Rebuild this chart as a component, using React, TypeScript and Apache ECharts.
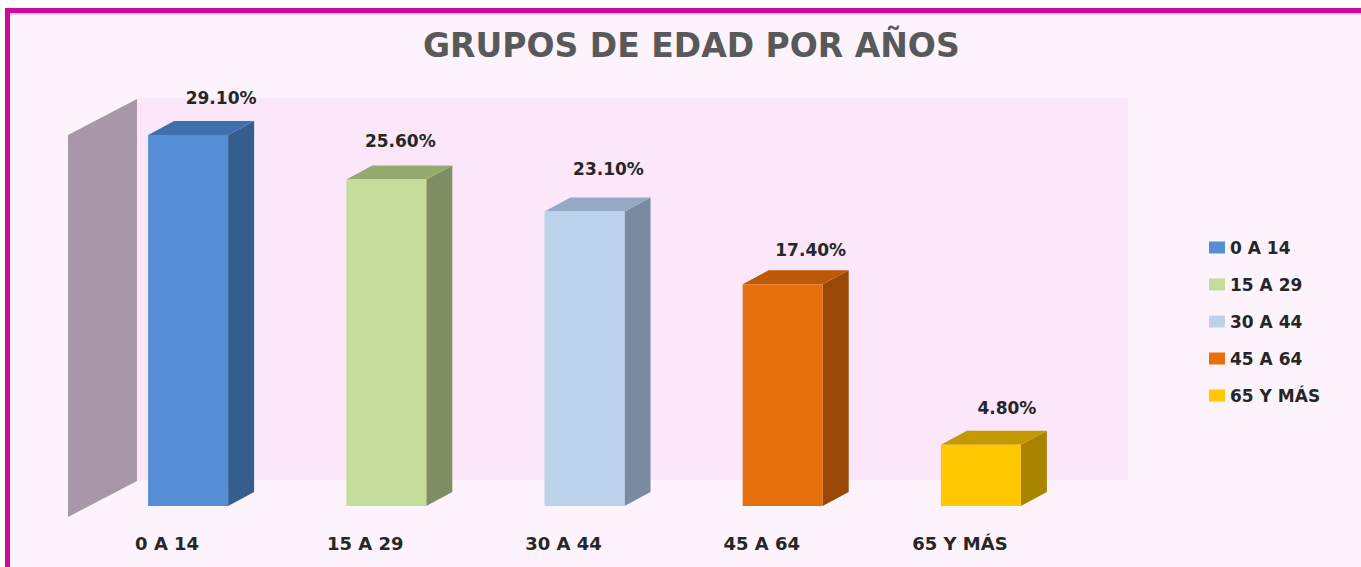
import React, { useEffect, useRef } from "react";
import * as echarts from "echarts";

const TITLE = "GRUPOS DE EDAD POR AÑOS";
const CATEGORIES = ["0 A 14", "15 A 29", "30 A 44", "45 A 64", "65 Y MÁS"];
const VALUES = [29.1, 25.6, 23.1, 17.4, 4.8];

const FRONT = ["#558ed5", "#c6dc9a", "#bcd2ea", "#e8700c", "#ffc700"];
const SIDE = ["#355d8e", "#7e8e60", "#798aa1", "#9a4806", "#a88400"];
const TOPC = ["#3f6fae", "#95aa6e", "#95a9c4", "#bd5a08", "#c49800"];
const LABEL_NUDGE = [
  [33, -37],
  [14, -39],
  [24, -42],
  [28, -34],
  [26, -37],
];

const BAR_W = 80;
const DX = 26;
const DY = -14;
const FONT = "DejaVu Sans";

export default function App() {
  const ref = useRef<HTMLDivElement>(null);
  useEffect(() => {
    if (!ref.current) return;
    const chart = echarts.init(ref.current, undefined, { renderer: "svg" });
    const series = CATEGORIES.map((name, i) => ({
      type: "custom",
      name,
      itemStyle: { color: FRONT[i] },
      encode: { x: 0, y: 1 },
      data: [[i, VALUES[i]]],
      renderItem: (params: any, api: any) => {
        const idx = api.value(0);
        const v = api.value(1);
        const top = api.coord([idx, v]);
        const base = api.coord([idx, 0]);
        const half = BAR_W / 2;
        const l = top[0] - half;
        const r = top[0] + half;
        const ty = top[1];
        const by = base[1];
        return {
          type: "group",
          children: [
            {
              type: "polygon",
              shape: { points: [[r, ty], [r + DX, ty + DY], [r + DX, by + DY], [r, by]] },
              style: { fill: SIDE[i] },
            },
            {
              type: "polygon",
              shape: { points: [[l, ty], [l + DX, ty + DY], [r + DX, ty + DY], [r, ty]] },
              style: { fill: TOPC[i] },
            },
            {
              type: "rect",
              shape: { x: l, y: ty, width: BAR_W, height: by - ty },
              style: { fill: FRONT[i] },
            },
            {
              type: "text",
              style: {
                text: v.toFixed(2) + "%",
                x: top[0] + LABEL_NUDGE[i][0],
                y: ty + LABEL_NUDGE[i][1],
                align: "center",
                verticalAlign: "middle",
                fontFamily: FONT,
                fontWeight: "bold",
                fontSize: 17,
                fill: "#262626",
              },
            },
          ],
        };
      },
    }));

    chart.setOption({
      animation: false,
      backgroundColor: "#ffffff",
      title: {
        text: TITLE,
        left: 423,
        top: 29,
        padding: 0,
        textStyle: { fontFamily: FONT, fontWeight: "bold", fontSize: 33, color: "#595959" },
      },
      legend: {
        orient: "vertical",
        left: 1204,
        top: 234,
        itemWidth: 16,
        itemHeight: 12,
        itemGap: 20,
        icon: "rect",
        data: CATEGORIES.map((name, i) => ({ name, itemStyle: { color: FRONT[i] } })),
        textStyle: { fontFamily: FONT, fontWeight: "bold", fontSize: 17, color: "#262626" },
      },
      grid: { left: 89, right: 281, top: 98, bottom: 61 },
      xAxis: {
        type: "category",
        data: CATEGORIES,
        axisLine: { show: false },
        axisTick: { show: false },
        splitLine: { show: false },
        axisLabel: {
          margin: 28,
          padding: [0, 42, 0, 0],
          fontFamily: FONT,
          fontWeight: "bold",
          fontSize: 18,
          color: "#262626",
        },
      },
      yAxis: { type: "value", min: 0, max: 32, show: false },
      graphic: [
        { type: "rect", z: -10, shape: { x: 5, y: 8, width: 1361, height: 567 }, style: { fill: "#fcf3fc" } },
        { type: "rect", z: -9, shape: { x: 137, y: 98, width: 991, height: 382 }, style: { fill: "#fbe6fa" } },
        {
          type: "polygon",
          z: -9,
          shape: { points: [[68, 135], [137, 99], [137, 481], [68, 517]] },
          style: { fill: "#a797a8" },
        },
        { type: "rect", z: -8, shape: { x: 5, y: 8, width: 1361, height: 5 }, style: { fill: "#cc0a9a" } },
        { type: "rect", z: -8, shape: { x: 5, y: 8, width: 5, height: 567 }, style: { fill: "#cc0a9a" } },
        { type: "rect", z: -8, shape: { x: 10, y: 13, width: 1361, height: 2 }, style: { fill: "#f3c6ec" } },
      ],
      series,
    });
    return () => chart.dispose();
  }, []);
  return (
    <div
      ref={ref}
      style={{ position: "absolute", left: 0, top: 0, width: 1361, height: 567 }}
    />
  );
}
